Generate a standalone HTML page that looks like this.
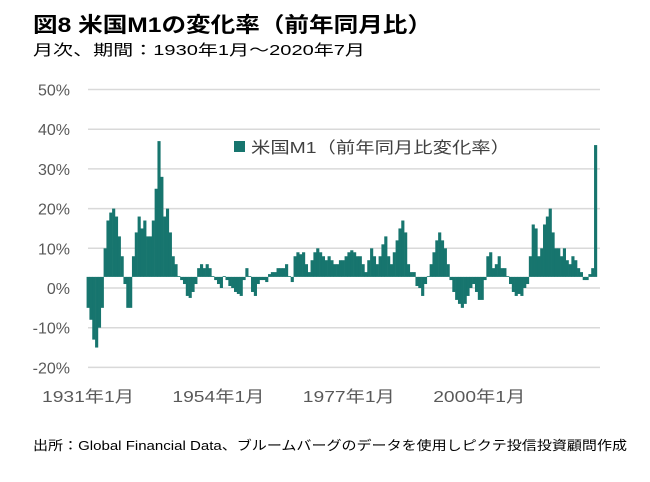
<!DOCTYPE html>
<html><head><meta charset="utf-8"><style>
body{margin:0;background:#fff;width:650px;height:477px;overflow:hidden;font-family:"Liberation Sans","Noto Sans CJK JP",sans-serif;}
svg text{font-family:"Liberation Sans","Noto Sans CJK JP",sans-serif;}
</style></head><body>
<svg id="c" width="650" height="477">
<text x="33" y="32" font-size="21" font-weight="bold" fill="#000" textLength="399" lengthAdjust="spacingAndGlyphs">図8  米国M1の変化率（前年同月比）</text>
<text x="33" y="55" font-size="15" fill="#000" textLength="332" lengthAdjust="spacingAndGlyphs">月次、期間：1930年1月～2020年7月</text>
<rect x="234" y="141" width="11" height="11" fill="#17756e"/>
<text x="251" y="153" font-size="16" fill="#404040" textLength="259" lengthAdjust="spacingAndGlyphs">米国M1（前年同月比変化率）</text>
<text x="33" y="450" font-size="13" fill="#000" textLength="594" lengthAdjust="spacingAndGlyphs">出所：Global Financial Data、ブルームバーグのデータを使用しピクテ投信投資顧問作成</text>
<g id="grid"></g><g id="bars"></g><g id="axes"></g>
</svg>
<script>
const years=[1931,1931.5,1932,1932.5,1933,1933.5,1934,1934.5,1935,1935.5,1936,1936.5,1937,1937.5,1938,1938.5,1939,1939.5,1940,1940.5,1941,1941.5,1942,1942.5,1943,1943.5,1944,1944.5,1945,1945.5,1946,1946.5,1947,1947.5,1948,1948.5,1949,1949.5,1950,1950.5,1951,1951.5,1952,1952.5,1953,1953.5,1954,1954.5,1955,1955.5,1956,1956.5,1957,1957.5,1958,1958.5,1959,1959.5,1960,1960.5,1961,1961.5,1962,1962.5,1963,1963.5,1964,1964.5,1965,1965.5,1966,1966.5,1967,1967.5,1968,1968.5,1969,1969.5,1970,1970.5,1971,1971.5,1972,1972.5,1973,1973.5,1974,1974.5,1975,1975.5,1976,1976.5,1977,1977.5,1978,1978.5,1979,1979.5,1980,1980.5,1981,1981.5,1982,1982.5,1983,1983.5,1984,1984.5,1985,1985.5,1986,1986.5,1987,1987.5,1988,1988.5,1989,1989.5,1990,1990.5,1991,1991.5,1992,1992.5,1993,1993.5,1994,1994.5,1995,1995.5,1996,1996.5,1997,1997.5,1998,1998.5,1999,1999.5,2000,2000.5,2001,2001.5,2002,2002.5,2003,2003.5,2004,2004.5,2005,2005.5,2006,2006.5,2007,2007.5,2008,2008.5,2009,2009.5,2010,2010.5,2011,2011.5,2012,2012.5,2013,2013.5,2014,2014.5,2015,2015.5,2016,2016.5,2017,2017.5,2018,2018.5,2019,2019.5,2020,2020.5];
const values=[-5,-8,-13,-15,-10,-5,10,17,19,20,18,13,8,1,-5,-5,8,14,18,15,17,13,13,17,25,37,28,18,20,14,8,6,3,2,1,-2,-2.5,-1,1,5,6,5,6,5,3,2,1,0,3,2,0.5,0,-1,-1.5,-2,2,5,3,-1,-2,1,2,2,1.5,3.5,4,4,5,5,5,6,3,1.5,8,9,8.5,9,6,4,7,9,10,9,8,7,8,7,6,6,7,7,8,9,9.5,9,8,8,6,4,7,10,8,6,8,11,13,8,6,9,12,15,17,14,6,4,4,0.5,0,-2,1,3,6,9,12,14,12,10,6,2,-1,-3,-4,-5,-4,-2,0,1,-1,-3,-3,2,8,9,5,6,8,5,5,3,1,-1,-2,-1.5,-2,0,1,8,16,15,8,10,16,18,20,14,10,10,8,10,7,6,8,7,5,4,2,2,3.5,5,36];
const yTicks=[50,40,30,20,10,0,-10,-20];
const yTickLabels=["50%","40%","30%","20%","10%","0%","-10%","-20%"];
const xTicks=[1931,1954,1977,2000];
const xTickLabels=["1931年1月","1954年1月","1977年1月","2000年1月"];
const baseValue=2.8;
const NS="http://www.w3.org/2000/svg";
const yS=v=>288-v*3.97;
const xS=y=>88+(y-1931)*5.67;
const grid=document.getElementById('grid'),bars=document.getElementById('bars'),axes=document.getElementById('axes');
yTicks.forEach((t,i)=>{
 const l=document.createElementNS(NS,'line');
 l.setAttribute('x1',88);l.setAttribute('x2',600);l.setAttribute('y1',yS(t));l.setAttribute('y2',yS(t));
 l.setAttribute('stroke','#d9d9d9');l.setAttribute('stroke-width','1.5');
 
 
 grid.appendChild(l);
 const tx=document.createElementNS(NS,'text');
 tx.setAttribute('x',70);tx.setAttribute('y',yS(t)+6);tx.setAttribute('text-anchor','end');
 tx.setAttribute('font-size','16');tx.setAttribute('fill','#595959');tx.textContent=yTickLabels[i];
 
 
 axes.appendChild(tx);
});
xTicks.forEach((t,i)=>{
 const tx=document.createElementNS(NS,'text');
 tx.setAttribute('x',xS(t)-46);tx.setAttribute('y',402);
 tx.setAttribute('textLength','92');tx.setAttribute('lengthAdjust','spacingAndGlyphs');
 tx.setAttribute('font-size','16');tx.setAttribute('fill','#595959');tx.textContent=xTickLabels[i];
 
 
 axes.appendChild(tx);
});
const w=5.67*0.5;
years.forEach((yr,i)=>{
 const v=values[i];
 const r=document.createElementNS(NS,'rect');
 const y0=yS(baseValue),y1=yS(v);
 r.setAttribute('x',xS(yr)-w/2);r.setAttribute('width',w+0.3);
 r.setAttribute('y',Math.min(y0,y1));r.setAttribute('height',Math.abs(y1-y0));
 r.setAttribute('fill','#17756e');
 
 
 bars.appendChild(r);
});
</script>
</body></html>
